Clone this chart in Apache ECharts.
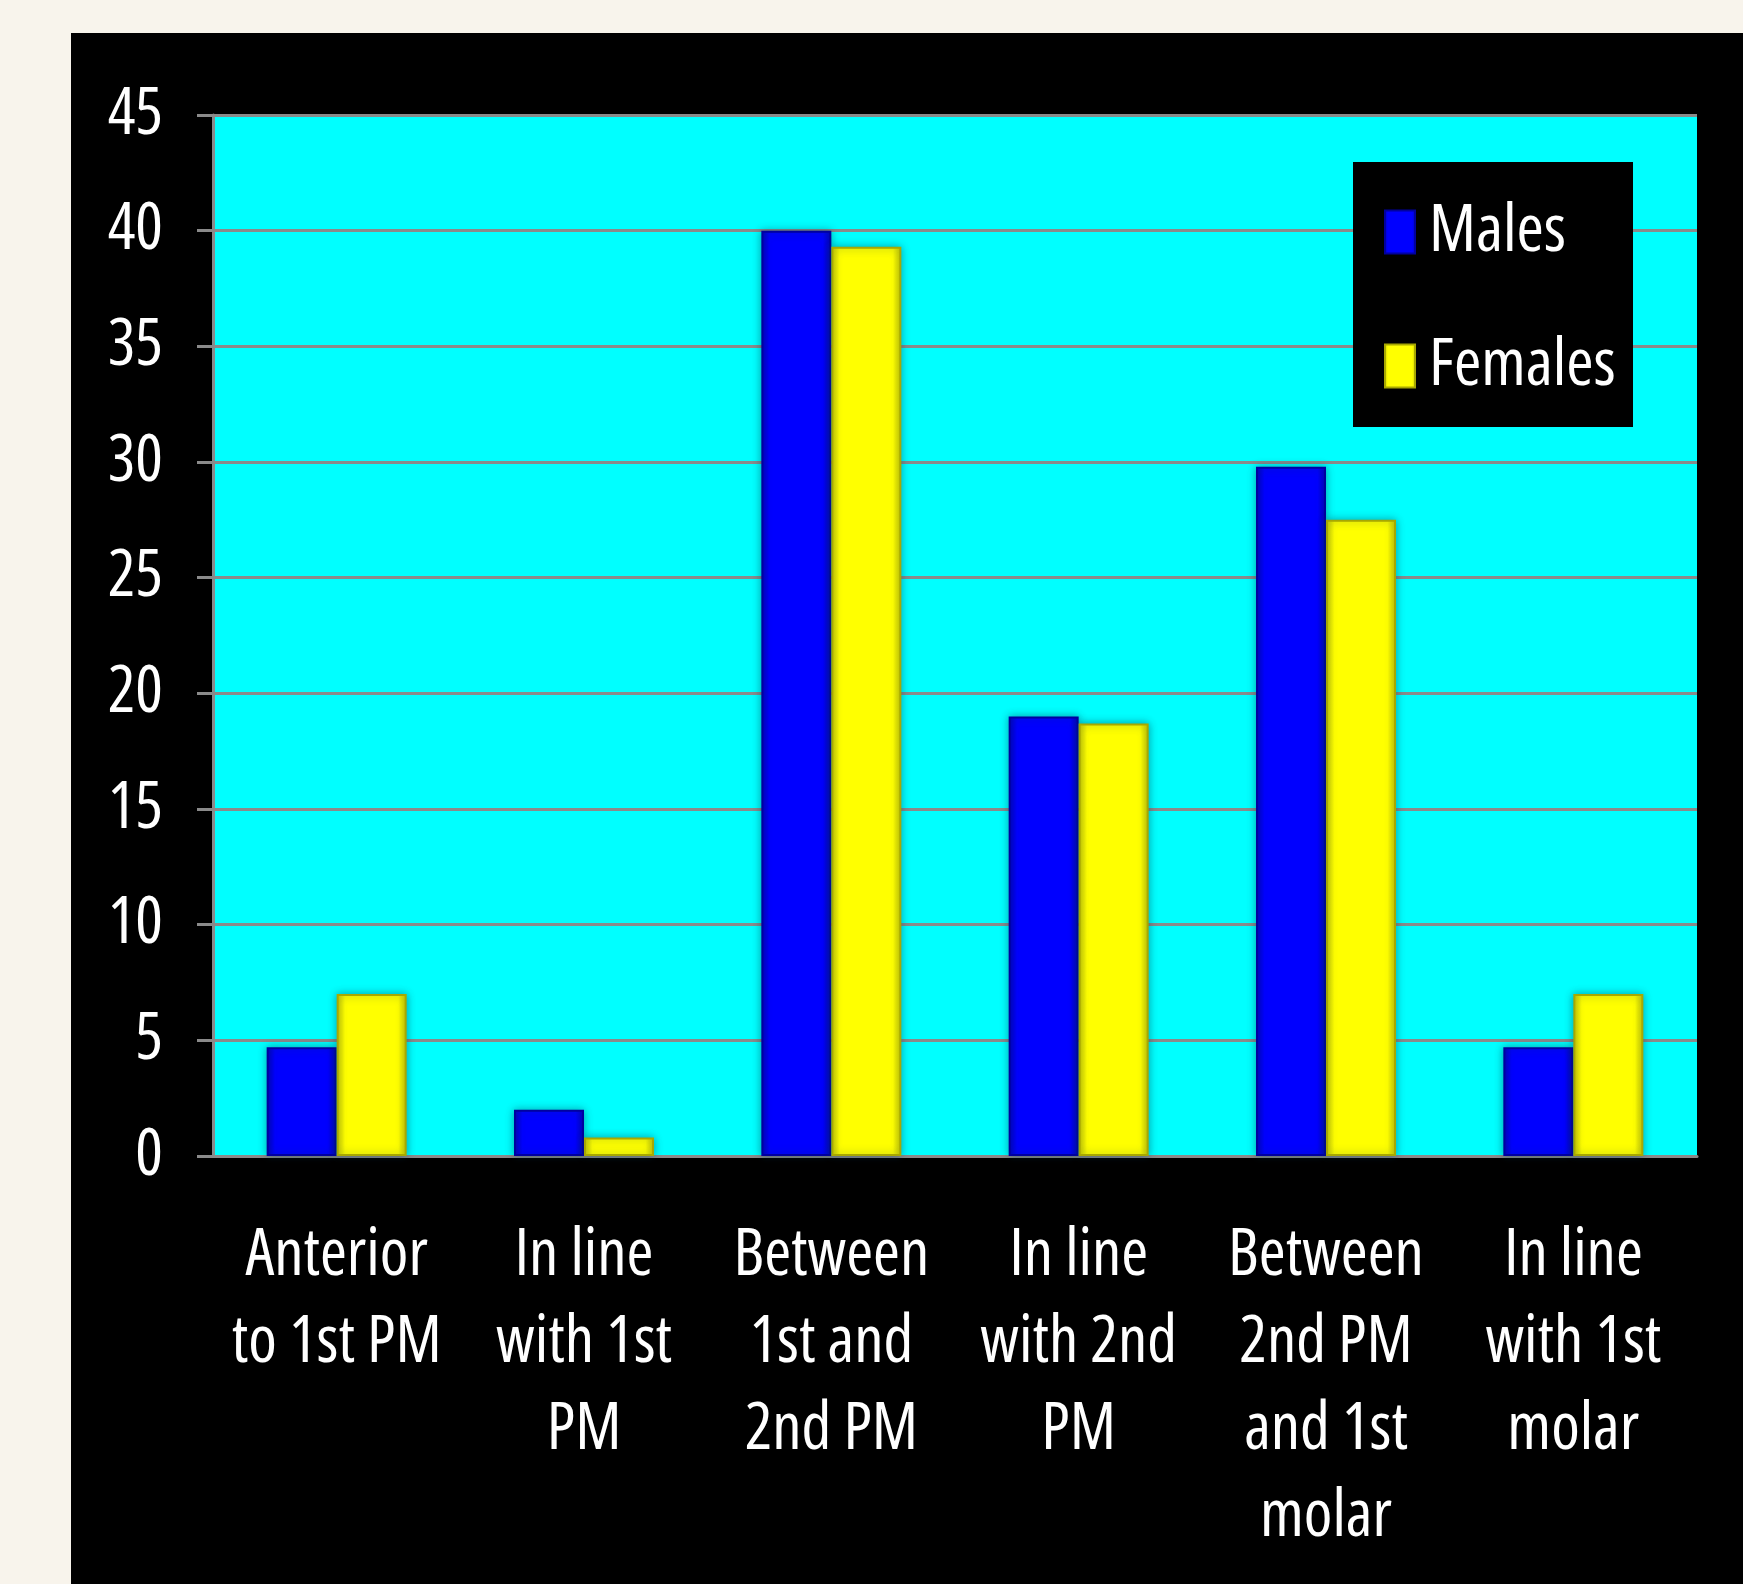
<!DOCTYPE html>
<html>
<head>
<meta charset="utf-8">
<script src="https://cdn.jsdelivr.net/npm/echarts@6/dist/echarts.min.js"></script>
<style>
  html, body { margin: 0; padding: 0; background: #f8f4ec; }
  #chart { width: 1743px; height: 1584px; }
</style>
</head>
<body>
<div id="chart"></div>
<script>
// Position of the mental foramen relative to the teeth, by sex (%)
const categories = [
  'Anterior\nto 1st PM',
  'In line\nwith 1st\nPM',
  'Between\n1st and\n2nd PM',
  'In line\nwith 2nd\nPM',
  'Between\n2nd PM\nand 1st\nmolar',
  'In line\nwith 1st\nmolar'
];
const males = [4.7, 2.0, 40.0, 19.0, 29.8, 4.7];
const females = [7.0, 0.8, 39.3, 18.7, 27.5, 7.0];
const yTicks = { min: 0, max: 45, interval: 5 };

const FONT = '"Liberation Sans Narrow", "Open Sans", sans-serif';
// narrow width face via the font shorthand
const WEIGHT = 'normal condensed';
const GRID_GRAY = '#8a8a8a';

function barFill(edge, mid) {
  return {
    type: 'linear', x: 0, y: 0, x2: 1, y2: 0,
    colorStops: [
      { offset: 0, color: edge },
      { offset: 0.12, color: mid },
      { offset: 0.88, color: mid },
      { offset: 1, color: edge }
    ]
  };
}

const chart = echarts.init(document.getElementById('chart'), null, { renderer: 'canvas' });

chart.setOption({
  backgroundColor: '#f8f4ec',
  animation: false,
  graphic: [
    {
      type: 'rect', z: -10,
      shape: { x: 71, y: 33, width: 1743 - 71, height: 1584 - 33 },
      style: { fill: '#000000' }
    },
    {
      type: 'rect', z: 3,
      shape: { x: 1353, y: 162, width: 280, height: 265 },
      style: { fill: '#000000' }
    }
  ],
  grid: {
    left: 213, top: 115, right: 46, bottom: 428,
    show: true, backgroundColor: '#00ffff', borderWidth: 0
  },
  legend: {
    orient: 'vertical',
    left: 1379, top: 194,
    icon: 'rect',
    itemWidth: 30, itemHeight: 43, itemGap: 68,
    textStyle: {
      color: '#ffffff', fontSize: 66, fontFamily: FONT, fontWeight: WEIGHT,
      padding: [0, 0, 0, 9]
    },
    data: ['Males', 'Females']
  },
  xAxis: {
    type: 'category',
    data: categories,
    axisLine: { lineStyle: { color: GRID_GRAY, width: 3 } },
    axisTick: { length: 25, lineStyle: { color: GRID_GRAY, width: 3 } },
    axisLabel: {
      color: '#ffffff', fontSize: 65, fontFamily: FONT, fontWeight: WEIGHT,
      lineHeight: 87, margin: 57, interval: 0
    }
  },
  yAxis: {
    type: 'value',
    min: yTicks.min, max: yTicks.max, interval: yTicks.interval,
    axisLine: { show: true, lineStyle: { color: GRID_GRAY, width: 3 } },
    axisTick: { show: true, length: 16, lineStyle: { color: GRID_GRAY, width: 3 } },
    splitLine: { lineStyle: { color: GRID_GRAY, width: 3 } },
    axisLabel: { color: '#ffffff', fontSize: 65, fontFamily: FONT, fontWeight: WEIGHT, margin: 50 }
  },
  series: [
    {
      name: 'Males', type: 'bar', data: males,
      barWidth: 70, barGap: '0%',
      itemStyle: {
        color: barFill('#0000b8', '#0000ff'),
        borderColor: '#0000a0', borderWidth: 2,
        shadowColor: 'rgba(0,60,80,0.45)', shadowBlur: 8
      }
    },
    {
      name: 'Females', type: 'bar', data: females,
      barWidth: 70, barGap: '0%',
      itemStyle: {
        color: barFill('#c8c800', '#ffff00'),
        borderColor: '#a8a800', borderWidth: 2,
        shadowColor: 'rgba(0,60,80,0.45)', shadowBlur: 8
      }
    }
  ]
});
</script>
</body>
</html>
